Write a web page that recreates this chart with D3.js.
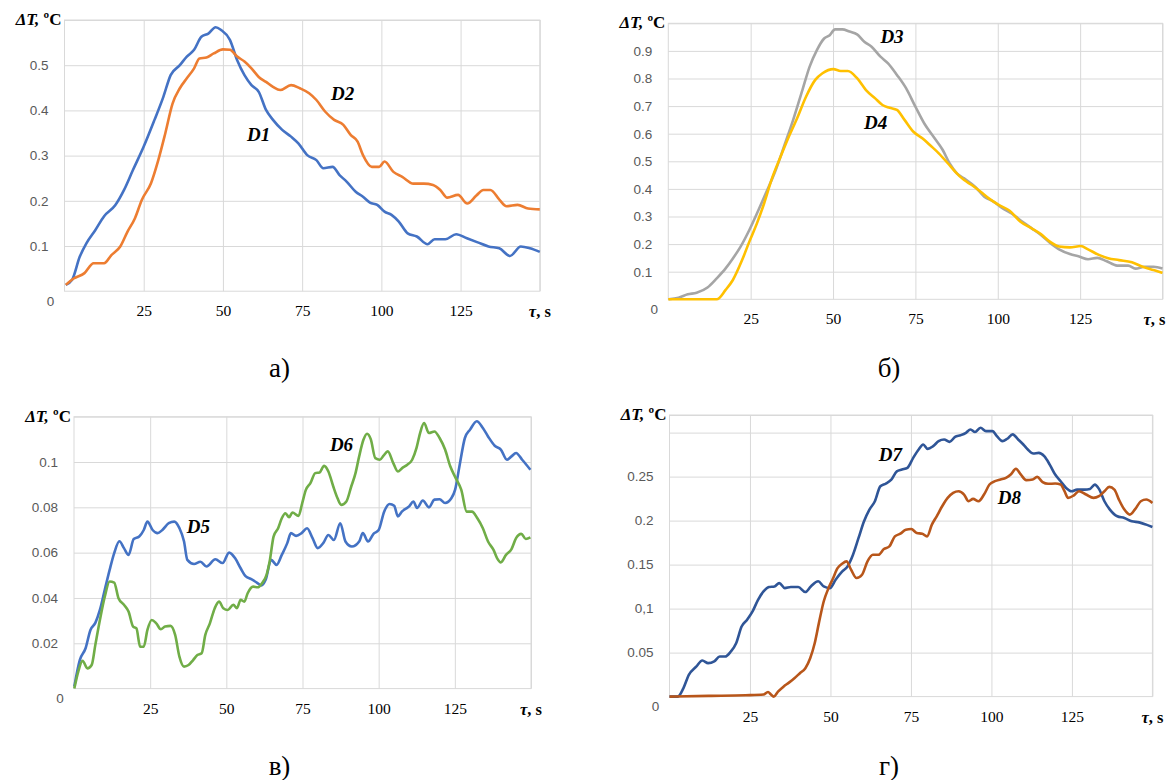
<!DOCTYPE html>
<html>
<head>
<meta charset="utf-8">
<script src="https://cdn.jsdelivr.net/npm/d3@7"></script>
<style>
  body { margin: 0; background: #fff; }
  svg { display: block; }
</style>
</head>
<body>
<div id="chart"></div>
<script>
// time axis, shared by all four panels
const xTicks = [25, 50, 75, 100, 125];
const xGrid = [25, 50, 75, 100, 125, 150];

// panel а
const aGrid = [0.1, 0.2, 0.3, 0.4, 0.5, 0.6];
const aLabels = ["0.1", "0.2", "0.3", "0.4", "0.5"];
const d1 = [[0.4,0.014],[2.4,0.025],[4.8,0.076],[6.9,0.106],[9.7,0.135],[12.5,0.166],[16,0.19],[18.8,0.224],[21.6,0.268],[25,0.32],[28.4,0.379],[31.2,0.43],[33.5,0.478],[36.4,0.5],[38.6,0.519],[40.9,0.534],[43.2,0.563],[45.4,0.57],[47.7,0.584],[49.4,0.578],[52.2,0.556],[54.5,0.511],[56.8,0.478],[59,0.456],[61.3,0.441],[63.6,0.401],[65.8,0.379],[68.7,0.357],[71.5,0.342],[73.8,0.327],[76.6,0.301],[79.5,0.29],[81.7,0.272],[84.6,0.275],[86.8,0.257],[89.1,0.242],[91.9,0.22],[94.2,0.209],[96.4,0.196],[98.7,0.191],[101,0.176],[103.2,0.169],[105.5,0.154],[108.3,0.128],[111.2,0.121],[114.6,0.104],[116.8,0.115],[120.2,0.115],[123.6,0.126],[127,0.117],[130.4,0.108],[133.8,0.099],[137.2,0.095],[140.6,0.078],[144,0.099],[146.9,0.095],[150,0.087]];
const d2 = [[0.4,0.014],[2.9,0.028],[6.3,0.04],[9.2,0.062],[12.5,0.062],[14.8,0.08],[17.6,0.099],[19.9,0.132],[22.2,0.161],[24.4,0.202],[27.3,0.239],[29.6,0.29],[31.8,0.349],[34.1,0.415],[36.4,0.449],[38.6,0.471],[40.9,0.493],[42.6,0.515],[44.8,0.517],[47.1,0.526],[50,0.535],[52.2,0.534],[54.5,0.519],[56.8,0.508],[59,0.493],[61.3,0.474],[63.6,0.463],[65.8,0.452],[68.1,0.445],[71.5,0.456],[74.3,0.449],[77.2,0.438],[79.5,0.423],[82.3,0.397],[85.1,0.379],[88,0.368],[90.3,0.346],[92.5,0.331],[94.2,0.301],[97,0.275],[99.3,0.275],[101,0.287],[103.8,0.264],[106.6,0.253],[110.1,0.238],[113.4,0.238],[116.3,0.235],[118.6,0.224],[120.8,0.207],[124.2,0.213],[127.1,0.194],[129.9,0.211],[132.2,0.224],[134.4,0.224],[137.3,0.202],[139.5,0.188],[143,0.191],[146.3,0.183],[150,0.181]];

// panel б
const bGrid = [0.1, 0.2, 0.3, 0.4, 0.5, 0.6, 0.7, 0.8, 0.9, 1.0];
const bLabels = ["0.1", "0.2", "0.3", "0.4", "0.5", "0.6", "0.7", "0.8", "0.9"];
const d3s = [[0.1,0],[3.1,0.006],[5.9,0.018],[8.6,0.024],[11.9,0.043],[14.7,0.076],[17.4,0.112],[19.6,0.148],[21.9,0.19],[24.6,0.251],[26.9,0.311],[29.6,0.384],[32.4,0.462],[35.1,0.553],[37.9,0.65],[40.7,0.758],[42.9,0.843],[45.1,0.903],[47.3,0.945],[49,0.957],[50.6,0.978],[52.8,0.978],[55,0.97],[57.3,0.96],[59.5,0.933],[61.7,0.915],[64.4,0.879],[66.7,0.855],[69.4,0.813],[72.2,0.764],[75,0.698],[77.7,0.637],[80.5,0.589],[83.3,0.541],[85.4,0.492],[87.6,0.456],[89.8,0.438],[93.1,0.408],[95.9,0.372],[98.7,0.354],[101.4,0.33],[104.2,0.311],[107.5,0.281],[110.3,0.257],[113.1,0.233],[115.8,0.205],[118.6,0.181],[121.9,0.164],[124.7,0.155],[127.4,0.145],[130.2,0.15],[132.9,0.139],[136.2,0.122],[139.6,0.122],[141.8,0.111],[144.6,0.118],[147.3,0.118],[150,0.112]];
const d4 = [[0,0],[14.7,0],[17.4,0.034],[19.6,0.07],[22.4,0.142],[24.6,0.209],[26.9,0.275],[29.1,0.348],[31.3,0.432],[34.1,0.517],[36.8,0.595],[39.1,0.656],[41.8,0.734],[44.6,0.795],[46.8,0.819],[50.1,0.834],[52.3,0.827],[54.5,0.827],[57.3,0.801],[60,0.758],[62.8,0.728],[65,0.704],[67.2,0.694],[69.4,0.686],[71.7,0.65],[74.4,0.607],[77.2,0.583],[79.4,0.559],[82.1,0.529],[84.9,0.492],[87.1,0.462],[89.8,0.432],[92.1,0.414],[94.8,0.39],[97.6,0.363],[100.3,0.342],[103.6,0.321],[106.9,0.281],[110.3,0.257],[113.1,0.236],[115.8,0.209],[118.6,0.191],[121.9,0.188],[125.2,0.193],[127.4,0.181],[130.7,0.161],[133.5,0.149],[136.8,0.142],[140.7,0.134],[144,0.118],[147.3,0.106],[150,0.096]];

// panel в
const cGrid = [0.02, 0.04, 0.06, 0.08, 0.1, 0.12];
const cLabels = ["0.02", "0.04", "0.06", "0.08", "0.1"];
const d5 = [[0.1,0.0009],[1.9,0.0126],[3.8,0.0178],[5.4,0.0259],[7,0.029],[8.5,0.0347],[10.1,0.0436],[11.7,0.0524],[13.2,0.0598],[14.9,0.065],[16.4,0.062],[17.9,0.059],[19.6,0.066],[21.4,0.0671],[22.9,0.07],[24.1,0.0737],[25.8,0.07],[27.4,0.0686],[29,0.07],[31.1,0.073],[32.9,0.0737],[34.6,0.0708],[36.1,0.065],[37.2,0.0568],[39.4,0.055],[41.5,0.056],[43.5,0.0539],[46.4,0.0571],[48.8,0.0554],[50.9,0.06],[52.9,0.0575],[54.7,0.0531],[56.4,0.0495],[58.2,0.0483],[60,0.0468],[61.5,0.0455],[62.9,0.048],[64.7,0.0568],[66.5,0.0546],[68.2,0.059],[70,0.0642],[71.2,0.0686],[72.9,0.0674],[74.7,0.0686],[76.5,0.0708],[78.3,0.0664],[80,0.062],[81.8,0.0642],[83.5,0.0678],[85.3,0.0656],[87.4,0.073],[89.1,0.0649],[91.2,0.0627],[93.6,0.0649],[94.8,0.0686],[96.5,0.0649],[98.3,0.0683],[100,0.07],[101.8,0.0781],[103.6,0.0815],[105.1,0.0807],[106.3,0.076],[107.6,0.0781],[110,0.0804],[111.4,0.0826],[112.6,0.0797],[114.5,0.083],[116.5,0.08],[118.3,0.0834],[120,0.0836],[121.8,0.0819],[123.9,0.0841],[125.1,0.0878],[126.5,0.098],[128.3,0.1106],[130,0.1143],[132.2,0.118],[134.2,0.115],[135.9,0.1113],[138.1,0.1072],[140.1,0.1055],[142.1,0.101],[143.6,0.1025],[145.1,0.104],[147.1,0.101],[149.8,0.0966]];
const d6 = [[0.1,0],[1.4,0.0075],[2.8,0.0123],[4.4,0.0089],[5.8,0.0104],[7,0.0193],[8.5,0.0303],[10.1,0.0406],[11.7,0.0473],[13.2,0.0468],[14.6,0.0399],[16.4,0.037],[17.9,0.034],[19.4,0.0274],[20.5,0.0266],[21.7,0.0185],[22.9,0.0185],[24.1,0.0259],[25.5,0.0303],[27,0.0288],[28.5,0.0262],[29.9,0.0274],[31.7,0.0277],[33.2,0.0237],[34.6,0.0141],[36.1,0.0097],[37.6,0.0104],[39.1,0.0126],[40.5,0.0148],[41.9,0.0156],[43.1,0.0237],[44.6,0.0288],[46.2,0.0355],[47.6,0.0384],[49,0.0355],[50.5,0.0347],[52.3,0.037],[53.5,0.0355],[54.7,0.0392],[55.9,0.0384],[57,0.0421],[58.8,0.045],[60.3,0.0447],[61.7,0.0465],[63.2,0.0502],[64.3,0.0568],[65.5,0.0671],[67,0.0708],[68.2,0.0752],[69.4,0.0774],[70.6,0.0756],[71.7,0.0777],[73.7,0.0762],[74.9,0.0818],[76.1,0.0877],[77.6,0.0907],[79.2,0.0951],[80.6,0.0954],[82.1,0.0983],[83.5,0.0958],[85.1,0.0892],[86.5,0.084],[87.7,0.0811],[89.4,0.0826],[91,0.0892],[92.4,0.0951],[93.6,0.1025],[95,0.1098],[96.2,0.1125],[97.4,0.1101],[98.9,0.1017],[100.4,0.101],[101.6,0.1028],[103,0.1047],[104.8,0.0995],[106.3,0.0958],[107.7,0.0973],[109.4,0.0988],[111,0.101],[112.4,0.1061],[113.6,0.1128],[114.9,0.1172],[116.5,0.1128],[118.3,0.1135],[120,0.1106],[121.8,0.1055],[123.5,0.0981],[125.3,0.0929],[127.1,0.0878],[128.9,0.0781],[130.6,0.0781],[132.4,0.0752],[134.2,0.0708],[135.9,0.0649],[137.7,0.0612],[138.9,0.0575],[140.1,0.0557],[141.8,0.059],[143.6,0.0616],[145.1,0.0664],[146.8,0.0683],[148.3,0.066],[149.8,0.0667]];

// panel г
const dGrid = [0.05, 0.1, 0.15, 0.2, 0.25, 0.3, 0.32];
const dLabels = ["0.05", "0,1", "0.15", "0.2", "0.25"];
const d7 = [[0,0],[2.6,0],[4.3,0.0094],[6,0.0246],[8.3,0.034],[10.2,0.041],[12,0.038],[13.9,0.04],[15.6,0.0455],[17.3,0.0455],[19,0.051],[20.7,0.0607],[22.4,0.0797],[24.1,0.0873],[25.8,0.0968],[27.5,0.11],[29.2,0.1195],[30.9,0.1245],[32.6,0.1252],[34.1,0.129],[35.8,0.1233],[37.7,0.1245],[40,0.1245],[42.2,0.1188],[43.9,0.1252],[46.2,0.131],[47.9,0.1252],[49.8,0.1233],[51.6,0.1328],[53.6,0.142],[55.3,0.1479],[57,0.1612],[58.7,0.18],[60.4,0.199],[62.1,0.2125],[63.8,0.222],[65.5,0.239],[67.2,0.242],[68.9,0.2466],[70.6,0.256],[72.2,0.258],[73.9,0.26],[75.7,0.2713],[77.4,0.2808],[78.8,0.2865],[80.2,0.2815],[81.9,0.2846],[83.6,0.2903],[85.3,0.2922],[87,0.2895],[88.7,0.2951],[90.4,0.297],[92.1,0.2998],[93.5,0.3036],[94.9,0.3006],[96.6,0.3055],[98.3,0.3017],[100.3,0.3017],[101.7,0.296],[103.4,0.2903],[104.9,0.293],[106.6,0.298],[108.3,0.2922],[109.9,0.2865],[111.3,0.2808],[113,0.2762],[114.7,0.277],[116.4,0.2732],[118.1,0.2637],[119.8,0.2523],[121.5,0.2447],[123.2,0.2371],[124.9,0.2333],[126.6,0.2352],[128.9,0.2352],[130.6,0.236],[132.1,0.2409],[133.4,0.236],[135.1,0.222],[136.8,0.2125],[139.1,0.2049],[141.3,0.203],[143.6,0.1992],[145.9,0.198],[148.1,0.1954],[150,0.1928]];
const d8 = [[0,0],[12.2,0.0008],[23.6,0.0015],[29.2,0.0023],[30.6,0.0053],[31.5,0.0023],[32.4,0],[33.7,0.0056],[35.4,0.0113],[37.1,0.0159],[38.8,0.0209],[40.5,0.0266],[42.2,0.0323],[43.7,0.0436],[45.1,0.0607],[46.4,0.0835],[47.9,0.1081],[49.4,0.1233],[50.7,0.1336],[52.2,0.146],[53.6,0.151],[55,0.1537],[56.4,0.1442],[58.1,0.1347],[59.8,0.1385],[61.5,0.1537],[63.2,0.1612],[64.9,0.1612],[66.6,0.1677],[68.3,0.1707],[70,0.1821],[71.7,0.1851],[73.4,0.1897],[75.1,0.1905],[76.8,0.1859],[78.5,0.1851],[80,0.1821],[81.5,0.1954],[83,0.2049],[84.7,0.2163],[86.4,0.2258],[88.1,0.2315],[89.8,0.2334],[91.5,0.2296],[92.9,0.222],[94.3,0.2247],[96,0.222],[97.7,0.2296],[99.4,0.241],[101.1,0.2448],[102.8,0.2467],[104.5,0.2486],[106,0.2524],[107.6,0.2589],[109.1,0.2524],[110.8,0.246],[112.8,0.2467],[114.2,0.2497],[115.9,0.2437],[117.6,0.2418],[119.8,0.2421],[121.5,0.241],[122.7,0.2334],[123.8,0.2258],[125.5,0.2284],[127.2,0.2334],[129.4,0.2296],[131.7,0.2258],[133.4,0.2277],[135.1,0.2334],[136.6,0.2383],[138.2,0.2353],[139.6,0.2239],[141.3,0.2125],[143,0.2068],[144.7,0.2133],[146.4,0.222],[148.1,0.2239],[150,0.2201]];

// curve names and where they are written, in data units
const seriesNames = ["D1", "D2", "D3", "D4", "D5", "D6", "D7", "D8"];
const namePos = [[61.3, 0.346], [87.8, 0.438], [67.9, 0.954], [62.9, 0.642], [40.8, 0.0714], [87.8, 0.1077], [68.6, 0.275], [105.6, 0.226]];
const captions = ["а)", "б)", "в)", "г)"];

const panels = [
  { left: 64.5, right: 539.8, top: 20, bottom: 291.2, ymax: 0.6, grid: aGrid, labels: aLabels,
    series: [[d1, "#4472c4", 0], [d2, "#ed7d31", 1]], capX: 279.5, capY: 377 },
  { left: 668.3, right: 1162.5, top: 23.3, bottom: 299.3, ymax: 1.0, grid: bGrid, labels: bLabels,
    series: [[d3s, "#a5a5a5", 2], [d4, "#ffc000", 3]], capX: 889, capY: 377 },
  { left: 74, right: 531, top: 416.7, bottom: 688.6, ymax: 0.12, grid: cGrid, labels: cLabels,
    series: [[d5, "#4472c4", 4], [d6, "#70ad47", 5]], capX: 279.5, capY: 775 },
  { left: 669.5, right: 1152.4, top: 415, bottom: 696.6, ymax: 0.32, grid: dGrid, labels: dLabels,
    series: [[d7, "#2f5597", 6], [d8, "#b8561a", 7]], capX: 889, capY: 775 }
];

const svg = d3.select("#chart").append("svg").attr("width", 1168).attr("height", 780);

panels.forEach((p, i) => {
  const w = p.right - p.left, h = p.bottom - p.top;
  const x = d3.scaleLinear().domain([0, 150]).range([p.left, p.right]);
  const y = d3.scaleLinear().domain([0, p.ymax]).range([p.bottom, p.top]);
  const g = svg.append("g");

  // grid
  g.append("g").attr("transform", `translate(${p.left},0)`)
    .call(d3.axisLeft(y).tickValues(p.grid).tickSize(-w).tickFormat(""))
    .call(a => a.select(".domain").remove())
    .selectAll("line").attr("stroke", "#d9d9d9");
  g.append("g").attr("transform", `translate(0,${p.bottom})`)
    .call(d3.axisBottom(x).tickValues(xGrid).tickSize(-h).tickFormat(""))
    .call(a => a.select(".domain").remove())
    .selectAll("line").attr("stroke", "#d9d9d9");
  g.append("rect").attr("x", p.left).attr("y", p.top).attr("width", w).attr("height", h)
    .attr("fill", "none").attr("stroke", "#d9d9d9");

  // y labels
  const yl = g.append("g").attr("transform", `translate(${p.left},0)`)
    .call(d3.axisLeft(y).tickValues(p.grid.slice(0, p.labels.length)).tickSize(0).tickPadding(16)
      .tickFormat((d, k) => p.labels[k]));
  yl.select(".domain").remove();
  yl.selectAll("text").attr("fill", "#595959").attr("font-family", "Liberation Sans, Arial, sans-serif")
    .attr("font-size", 13.5);
  g.append("text").attr("x", p.left - 14).attr("y", p.bottom + 10).attr("dy", "0.35em")
    .attr("text-anchor", "middle").attr("fill", "#595959")
    .attr("font-family", "Liberation Sans, Arial, sans-serif").attr("font-size", 13.5).text("0");

  // x labels
  const xl = g.append("g").attr("transform", `translate(0,${p.bottom})`)
    .call(d3.axisBottom(x).tickValues(xTicks).tickSize(0).tickPadding(14));
  xl.select(".domain").remove();
  xl.selectAll("text").attr("fill", "#000").attr("font-family", "Liberation Serif, Times New Roman, serif")
    .attr("font-size", 15.5);

  // axis titles
  const yt = g.append("text").attr("x", p.left - 3).attr("y", p.top + 5).attr("text-anchor", "end")
    .attr("font-family", "Liberation Serif, Times New Roman, serif").attr("font-size", 17)
    .attr("font-weight", "bold");
  yt.append("tspan").attr("font-style", "italic").text("ΔT,");
  yt.append("tspan").text(" ºC");
  const xt = g.append("text").attr("x", p.right).attr("y", p.bottom + 26).attr("text-anchor", "middle")
    .attr("font-family", "Liberation Serif, Times New Roman, serif").attr("font-size", 16.5)
    .attr("font-weight", "bold");
  xt.append("tspan").attr("font-style", "italic").text("τ");
  xt.append("tspan").text(", s");
  // keep the title inside the page at the right edge
  const bb = xt.node().getBBox();
  if (bb.x + bb.width > 1166) xt.attr("x", p.right - (bb.x + bb.width - 1166));

  // curves
  const line = d3.line().x(d => x(d[0])).y(d => y(d[1])).curve(d3.curveMonotoneX);
  p.series.forEach(([data, color, k]) => {
    g.append("path").datum(data).attr("d", line).attr("fill", "none")
      .attr("stroke", color).attr("stroke-width", 2.6).attr("stroke-linejoin", "round");
  });
  p.series.forEach(([data, color, k]) => {
    g.append("text").attr("x", x(namePos[k][0])).attr("y", y(namePos[k][1])).attr("dy", "0.35em")
      .attr("text-anchor", "middle").attr("font-family", "Liberation Serif, Times New Roman, serif")
      .attr("font-size", 19).attr("font-weight", "bold").attr("font-style", "italic")
      .text(seriesNames[k]);
  });

  // caption
  svg.append("text").attr("x", p.capX).attr("y", p.capY).attr("text-anchor", "middle")
    .attr("font-family", "Liberation Serif, Times New Roman, serif").attr("font-size", 27)
    .text(captions[i]);
});
</script>
</body>
</html>
